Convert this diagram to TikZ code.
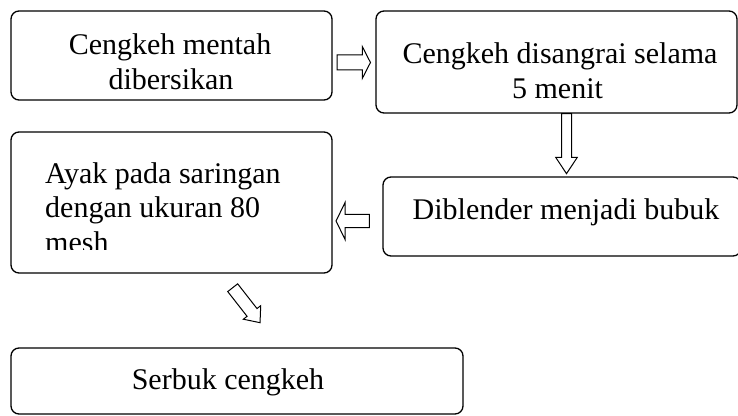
\documentclass[tikz,border=0pt]{standalone}
\usepackage{fontspec}
\setmainfont{Liberation Serif}
\usetikzlibrary{calc}
\tikzset{
  box/.style={draw, rectangle, rounded corners=8pt, line width=1.3pt, inner sep=0pt},
  txt/.style={font=\fontsize{30}{35}\selectfont, inner sep=0pt, anchor=base},
  txtl/.style={txt, anchor=base west},
  arrowline/.style={draw, line width=1pt, fill=white, line join=miter},
}
% #1 start coordinate, #2 rotation, #3 length, #4 shaft half width, #5 head half width, #6 head length
\newcommand\blockarrow[6]{%
  \draw[arrowline, shift={(#1)}, rotate=#2]
    (0,-#4) -- ({#3-#6},-#4) -- ({#3-#6},-#5) -- (#3,0) -- ({#3-#6},#5) -- ({#3-#6},#4) -- (0,#4) -- cycle;}
\begin{document}
\begin{tikzpicture}[x=1pt,y=1pt]
\useasboundingbox (0,0) rectangle (738,415);
\clip (0,0) rectangle (738,415);
\fill[white] (0,0) rectangle (738,415);
% boxes
\node[box, minimum width=321pt, minimum height=89pt] (b1) at (171.5,359.5) {};
\node[box, minimum width=361pt, minimum height=102pt] (b2) at (556.5,353) {};
\node[box, minimum width=321pt, minimum height=141pt] (b3) at (171.5,212.5) {};
\node[box, minimum width=358pt, minimum height=79pt] (b4) at (562,198.5) {};
\node[box, minimum width=452pt, minimum height=66pt] (b5) at (237,34) {};
% texts
\node[txt] (t1a) at (170,360) {Cengkeh mentah};
\node[txt] (t1b) at (171,325) {dibersikan};
\node[txt] (t2a) at (560,351) {Cengkeh disangrai selama};
\node[txt] (t2b) at (557.5,316) {5 menit};
\node[txtl] (t3a) at (45,231) {Ayak pada saringan};
\node[txtl] (t3b) at (45,197.5) {dengan ukuran 80};
\begin{scope}
  \clip (0,165) rectangle (738,200);
  \node[txtl] (t3c) at (45,162) {mesh};
\end{scope}
\node[txt] (t4) at (566,195) {Diblender menjadi bubuk};
\node[txt] (t5) at (228,25.5) {Serbuk cengkeh};
% block arrows
\coordinate (a1) at ($(b1.east)+(4.5,-7)$);
\coordinate (a2) at ($(b2.south)+(10,0)$);
\coordinate (a3) at ($(b4.west)+(-13,-4.5)$);
\coordinate (a4) at (232.7,127.3);
\blockarrow{a1}{0}{33.3}{7.5}{15.7}{8}
\blockarrow{a2}{-90}{60}{5}{10.8}{16.3}
\blockarrow{a3}{180}{33.3}{6.7}{18.5}{9}
\blockarrow{a4}{-52}{44.4}{6.3}{11}{13}
\end{tikzpicture}
\end{document}
